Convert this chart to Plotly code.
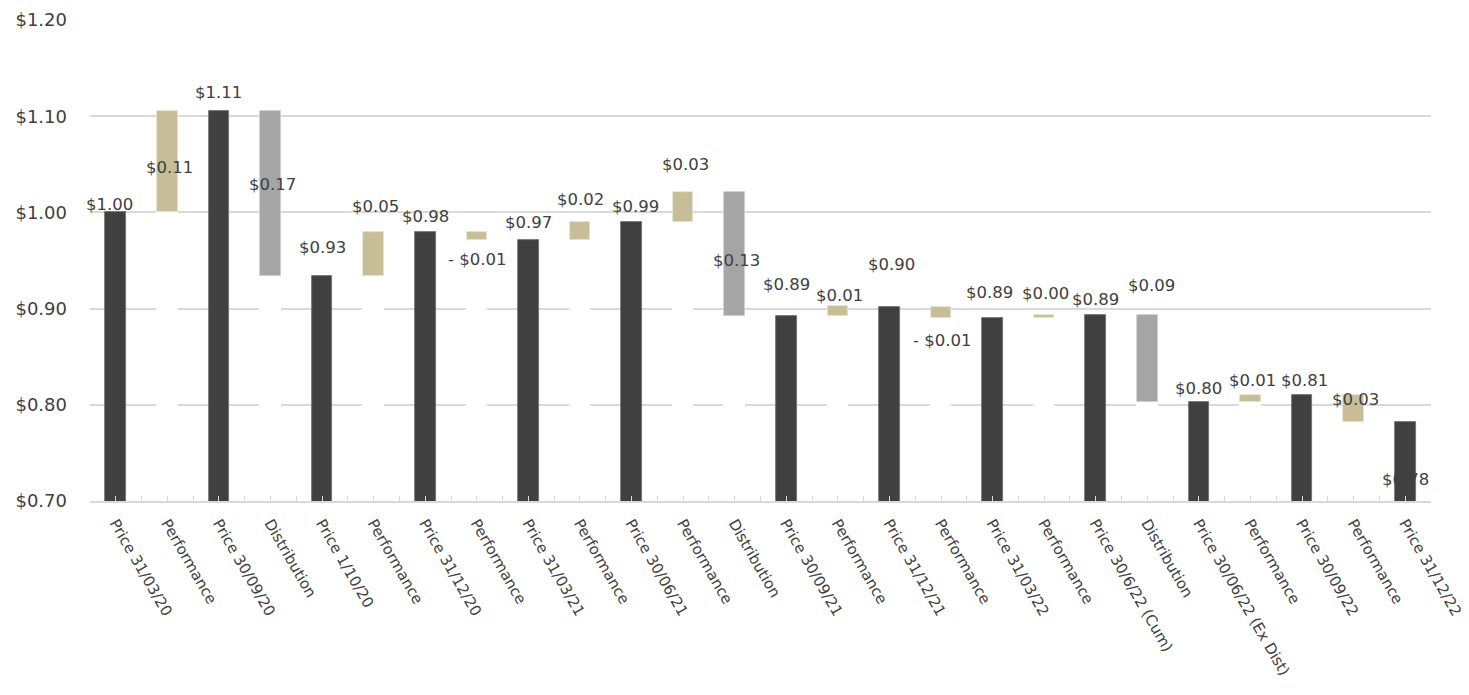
import plotly.graph_objects as go

categories = [
    "Price 31/03/20", "Performance", "Price 30/09/20", "Distribution", "Price 1/10/20",
    "Performance", "Price 31/12/20", "Performance", "Price 31/03/21", "Performance",
    "Price 30/06/21", "Performance", "Distribution", "Price 30/09/21", "Performance",
    "Price 31/12/21", "Performance", "Price 31/03/22", "Performance", "Price 30/6/22 (Cum)",
    "Distribution", "Price 30/06/22 (Ex Dist)", "Performance", "Price 30/09/22", "Performance",
    "Price 31/12/22",
]
kinds = [
    "price", "perf", "price", "dist", "price",
    "perf", "price", "perf", "price", "perf",
    "price", "perf", "dist", "price", "perf",
    "price", "perf", "price", "perf", "price",
    "dist", "price", "perf", "price", "perf",
    "price",
]
# price entries are levels, perf/dist entries are signed changes
values = [
    1.000, 0.1055, 1.1055, -0.1715, 0.934,
    0.046, 0.980, -0.0085, 0.9715, 0.0185,
    0.990, 0.0315, -0.1292, 0.8923, 0.0100,
    0.902, -0.0115, 0.8905, 0.0030, 0.8935,
    -0.0908, 0.8027, 0.0080, 0.8107, -0.0281,
    0.7826,
]
data_labels = [
    "$1.00", "$0.11", "$1.11", "$0.17", "$0.93",
    "$0.05", "$0.98", "- $0.01", "$0.97", "$0.02",
    "$0.99", "$0.03", "$0.13", "$0.89", "$0.01",
    "$0.90", "- $0.01", "$0.89", "$0.00", "$0.89",
    "$0.09", "$0.80", "$0.01", "$0.81", "$0.03",
    "$0.78",
]
y_tick_vals = [0.70, 0.80, 0.90, 1.00, 1.10, 1.20]
y_tick_text = ["$0.70", "$0.80", "$0.90", "$1.00", "$1.10", "$1.20"]

# label placement (pixels relative to bar top) - styling
label_yshift = [8, -57, 18, -74, 28, 25, 15, -28, 17, 23, 16, 27, -69, 32, 11, 42, -34, 25, 21, 15, 29, 14, 14, 14, -5, -58]
label_xshift = [-6, 2, 0, 2, 0, 2, 0, 0, 0, 1, 4, 2, 2, 0, 2, 2, 1, -3, 1, 0, 4, 0, 2, 2, 2, 0]

DARK = "#404040"
TAN = "#C7BE98"
GREY = "#A5A5A5"
TEXT = "#404040"
GRID = "#D9D9D9"
FONT = "DejaVu Sans"

idx = list(range(len(categories)))
lows, highs = [], []
level = 0.0
for k, v in zip(kinds, values):
    if k == "price":
        level = v
        lows.append(0.0)
        highs.append(v)
    else:
        end = level + v
        lows.append(min(level, end))
        highs.append(max(level, end))
        level = end

fig = go.Figure()

# price bars
p_idx = [i for i in idx if kinds[i] == "price"]
fig.add_trace(go.Bar(
    x=p_idx, y=[highs[i] for i in p_idx], base=0, width=0.4,
    marker=dict(color=DARK, line=dict(color="#6E6E6E", width=0.8)),
    showlegend=False, hoverinfo="skip",
))
# white covers under floating bars (hide gridlines)
c_idx = [i for i in idx if kinds[i] != "price"]
fig.add_trace(go.Bar(
    x=c_idx, y=[lows[i] for i in c_idx], base=0, width=0.4,
    marker=dict(color="white", line=dict(color="white", width=1)),
    showlegend=False, hoverinfo="skip",
))
for kind, col in (("perf", TAN), ("dist", GREY)):
    k_idx = [i for i in idx if kinds[i] == kind]
    fig.add_trace(go.Bar(
        x=k_idx, y=[highs[i] - lows[i] for i in k_idx], base=[lows[i] for i in k_idx],
        width=0.4,
        marker=dict(color=col, line=dict(color="#E6E2D3" if kind == "perf" else "#D0D0D0", width=0.8)),
        showlegend=False, hoverinfo="skip",
    ))

for i in idx:
    fig.add_annotation(
        x=i, y=highs[i], xref="x", yref="y", text=data_labels[i],
        showarrow=False, yshift=label_yshift[i], xshift=label_xshift[i],
        font=dict(family=FONT, size=16.5, color=TEXT),
    )

fig.update_layout(
    width=1469, height=695,
    margin=dict(l=90, r=38, t=20, b=194),
    plot_bgcolor="white", paper_bgcolor="white",
    barmode="overlay", bargap=0,
    font=dict(family=FONT, color=TEXT),
)
fig.update_xaxes(
    range=[-0.5, len(categories) - 0.5],
    tickmode="array", tickvals=idx, ticktext=categories,
    tickangle=60, tickfont=dict(family=FONT, size=15, color=TEXT),
    ticks="inside", ticklen=5, tickcolor=GRID, tickwidth=1.3,
    minor=dict(tickmode="array", tickvals=[i - 0.5 for i in range(len(categories) + 1)],
               ticks="inside", ticklen=5, tickcolor=GRID, tickwidth=1.3, showgrid=False),
    showline=True, linecolor=GRID, linewidth=1.5,
    showgrid=False, zeroline=False,
    automargin=False, ticklabeloverflow="allow", ticklabelstandoff=6,
)
fig.update_yaxes(
    range=[0.70, 1.20],
    tickmode="array", tickvals=y_tick_vals, ticktext=y_tick_text,
    tickfont=dict(family=FONT, size=18, color=TEXT),
    showgrid=True, gridcolor=GRID, gridwidth=1.5,
    zeroline=False, showline=False, ticks="", ticklabelstandoff=22,
    automargin=False,
)

fig.write_html("out.html")
